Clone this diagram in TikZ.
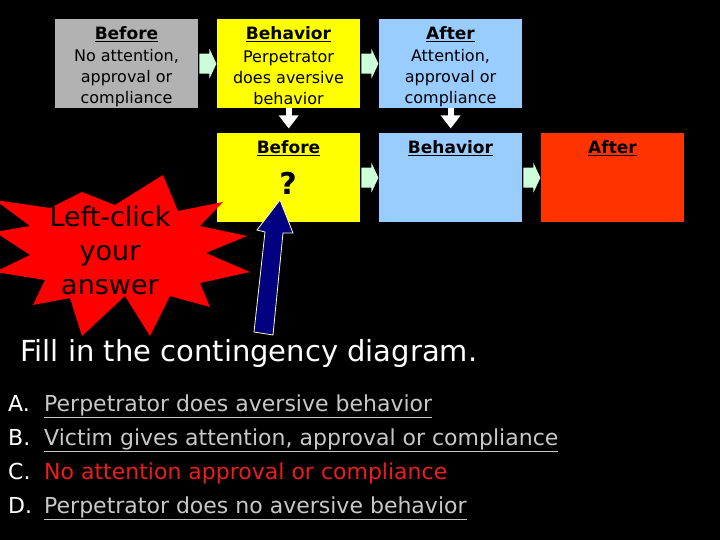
\documentclass[tikz,border=0pt]{standalone}
\usepackage{fontspec}
\setmainfont{DejaVu Sans}
\usetikzlibrary{calc}
\definecolor{boxgray}{HTML}{B2B2B2}
\definecolor{boxyellow}{HTML}{FFFF00}
\definecolor{boxblue}{HTML}{99CCFF}
\definecolor{boxred}{HTML}{FF3300}
\definecolor{mint}{HTML}{CCFFD9}
\definecolor{starred}{HTML}{FF0000}
\definecolor{navy}{HTML}{000080}
\definecolor{optgray}{HTML}{C8C8C8}
\definecolor{optred}{HTML}{EE1C1C}
\newcommand\greenarrow[1]{%
  \fill[mint] ($(#1)+(1,-10)$) -- ++(10,0) -- ++(0,-5) -- ++(7,15) -- ++(-7,15) -- ++(0,-5) -- ++(-10,0) -- cycle;}
\newcommand\whitedown[1]{%
  \fill[white] ($(#1)+(-3,0)$) rectangle ++(6,10);
  \fill[white] ($(#1)+(-10,7)$) -- ++(20,0) -- ++(-10,13) -- cycle;}
\begin{document}
\begin{tikzpicture}[x=1pt,y=-1pt,
  box/.style={draw=none,minimum width=143pt,minimum height=89pt,anchor=north west,inner sep=0pt},
  hd/.style={font=\fontsize{17}{20}\selectfont\bfseries,text=black,inner sep=0pt},
  bd/.style={font=\fontsize{16}{21}\selectfont,text=black,align=center,inner sep=0pt},
  opt/.style={anchor=base west,inner sep=0pt,font=\fontsize{22}{26}\selectfont}]
\useasboundingbox[fill=black] (0,0) rectangle (720,540);
% row 1
\node[box,fill=boxgray] (b1) at (55,19) {};
\node[box,fill=boxyellow] (b2) at (217,19) {};
\node[box,fill=boxblue] (b3) at (379,19) {};
\node[hd] at (126.5,34) {\underline{Before}};
\node[hd] at (288.5,34) {\underline{Behavior}};
\node[hd] at (450.5,34) {\underline{After}};
\node[bd] at (126.5,78) {No attention,\\approval or\\compliance};
\node[bd] at (288.5,78) {Perpetrator\\does aversive\\behavior};
\node[bd] at (450.5,78) {Attention,\\approval or\\compliance};
\greenarrow{b1.east}
\greenarrow{b2.east}
% row 2
\node[box,fill=boxyellow] (c1) at (217,133) {};
\node[box,fill=boxblue] (c2) at (379,133) {};
\node[box,fill=boxred] (c3) at (541,133) {};
\node[hd] at (288.5,148) {\underline{Before}};
\node[hd] at (450.5,148) {\underline{Behavior}};
\node[hd] at (612.5,148) {\underline{After}};
\node[font=\fontsize{30}{34}\selectfont\bfseries,inner sep=0pt] (q) at (288,183) {?};
\greenarrow{c1.east}
\greenarrow{c2.east}
\whitedown{b2.south}
\whitedown{b3.south}
% starburst
\fill[starred] (163,175) -- (178,211) -- (223,202) -- (200,226) -- (247,236) -- (206,253)
  -- (250,272) -- (200,283) -- (210,307) -- (170,296) -- (150,336) -- (125,296)
  -- (82,336) -- (70,298) -- (33,305) -- (45,280) -- (-5,272) -- (30,255)
  -- (-5,232) -- (30,226) -- (-5,200) -- (50,208) -- (82,192) -- (115,205) -- cycle;
\node[font=\fontsize{27}{34}\selectfont,text=black,align=center,inner sep=0pt] (star) at (110,250) {Left-click\\your\\answer};
% blue arrow
\coordinate (tip) at (280,200);
\filldraw[fill=navy,draw={rgb,255:red,255;green,255;blue,190},line width=0.8pt]
  (tip) -- (293,233) -- (283,233) -- (273,335) -- (254,332) -- (265,232) -- (257,230) -- cycle;
% text
\node[anchor=base west,inner sep=0pt,text=white,font=\fontsize{29}{34}\selectfont] (title) at (20,361) {Fill in the contingency diagram.};
\node[opt,text=white] (la) at (8,411) {A.};
\node[opt,text=white] (lb) at (8,445) {B.};
\node[opt,text=white] (lc) at (8,479) {C.};
\node[opt,text=white] (ld) at (8,513) {D.};
\node[opt,text=optgray] (oa) at (44,411) {\underline{Perpetrator does aversive behavior}};
\node[opt,text=optgray] (ob) at (44,445) {\underline{Victim gives attention, approval or compliance}};
\node[opt,text=optred] (oc) at (44,479) {No attention approval or compliance};
\node[opt,text=optgray] (od) at (44,513) {\underline{Perpetrator does no aversive behavior}};
\end{tikzpicture}
\end{document}
